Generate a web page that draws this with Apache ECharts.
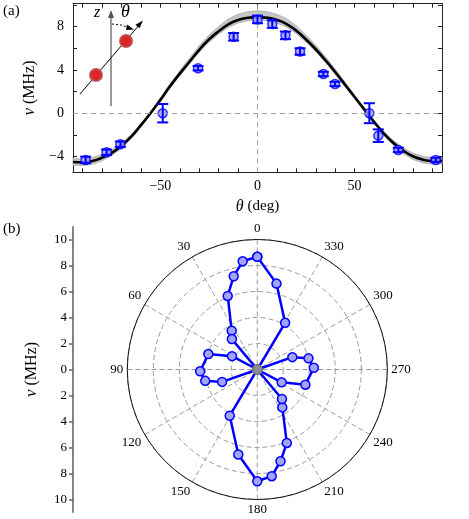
<!DOCTYPE html>
<html>
<head>
<meta charset="utf-8">
<script src="https://cdn.jsdelivr.net/npm/echarts@6/dist/echarts.min.js"></script>
<style>
  html, body { margin: 0; padding: 0; background: #fff; }
  #chart { width: 469px; height: 519px; }
</style>
</head>
<body>
<div id="chart"></div>
<script>
// (a) measured points
const thetaPts = [-88.5, -77.7, -70.6, -48.8, -30.6, -12.3, 0, 7.6, 14.4, 21.9, 33.9, 39.9, 57.6, 62.2, 72.5, 91.8]
const nuPts = [-4.31, -3.6, -2.86, 0, 4.15, 7.05, 8.65, 8.22, 7.18, 5.69, 3.62, 2.7, 0, -2.07, -3.39, -4.31]
const nuErr = [0.3, 0.25, 0.25, 0.85, 0.2, 0.35, 0.35, 0.35, 0.35, 0.3, 0.2, 0.2, 0.92, 0.58, 0.2, 0.2]

// (a) fitted curve and its uncertainty band
const thetaFit = [-95, -90, -85, -80, -75, -70, -65, -60, -55, -50, -45, -40, -35, -30, -25, -20, -15, -10, -5, 0,
  5, 10, 15, 20, 25, 30, 35, 40, 45, 50, 55, 60, 65, 70, 75, 80, 85, 90, 95]
const nuFit = [-4.5, -4.52, -4.4, -4.1, -3.65, -3.0, -2.15, -1.1, 0.02, 1.23, 2.5, 3.65, 4.75, 5.85, 6.8, 7.55, 8.2, 8.6, 8.8, 8.86,
  8.8, 8.6, 8.22, 7.6, 6.8, 5.9, 4.88, 3.8, 2.65, 1.5, 0.35, -0.8, -1.85, -2.75, -3.45, -3.97, -4.28, -4.4, -4.38]
const bandHigh = [-4.2, -4.22, -4.1, -3.8, -3.38, -2.78, -1.98, -0.97, 0.15, 1.4, 2.72, 3.93, 5.08, 6.22, 7.2, 8.0, 8.7, 9.12, 9.36, 9.44,
  9.36, 9.12, 8.72, 8.05, 7.2, 6.27, 5.2, 4.07, 2.88, 1.68, 0.48, -0.67, -1.68, -2.52, -3.18, -3.68, -3.98, -4.1, -4.08]
const bandLow = [-4.8, -4.82, -4.7, -4.38, -3.9, -3.24, -2.33, -1.22, -0.1, 1.1, 2.35, 3.48, 4.56, 5.63, 6.55, 7.3, 7.93, 8.32, 8.52, 8.58,
  8.52, 8.32, 7.95, 7.35, 6.55, 5.68, 4.68, 3.6, 2.45, 1.35, 0.22, -0.93, -2.02, -2.98, -3.72, -4.26, -4.58, -4.7, -4.68]

// (a) ticks
const xTicks = [-90, -80, -70, -60, -50, -40, -30, -20, -10, 0, 10, 20, 30, 40, 50, 60, 70, 80, 90]
const xTickLabels = [-50, 0, 50]
const yTicks = [-4, -2, 0, 2, 4, 6, 8, 10]
const yTickLabels = [-4, 0, 4, 8]

// (b) polar data: angle (deg) and |nu| (MHz)
const polarAngle = [0, 7.7, 14.2, 21.9, 33.4, 39.9, 57.6, 62.2, 72.5, 91.8, 102.3, 109.4, 131.2, 149.2, 167.4,
  180, 187.7, 194.2, 201.9, 213.4, 219.9, 237.6, 242.2, 252.5, 271.8, 282.3, 289.4, 311.2, 329.2, 347.4, 360]
const polarNu = [8.67, 8.4, 7.4, 6.1, 3.58, 3.05, 0, 2.2, 3.95, 4.4, 4.1, 2.87, 0, 4.14, 6.7,
  8.6, 8.28, 7.28, 6.09, 3.49, 2.96, 0, 2.12, 3.88, 4.35, 4.03, 2.86, 0, 4.18, 6.77, 8.67]

// (b) ruler on the left
const rulerValues = [-10, -8, -6, -4, -2, 0, 2, 4, 6, 8, 10]
const rulerLabels = ['10', '8', '6', '4', '2', '0', '2', '4', '6', '8', '10']

const FONT = 'Liberation Serif'
const BLUE = '#0000ff'
const chart = echarts.init(document.getElementById('chart'))

// real minus sign like the original
const minus = (v) => String(v).replace('-', '\u2212')

const frameAxis = (extra) => Object.assign({
  type: 'value',
  axisLine: { show: true, onZero: false, lineStyle: { color: '#222', width: 1 } },
  splitLine: { show: false }
}, extra)

const nuName = {
  name: '{i|ν} (MHz)', nameLocation: 'middle', nameRotate: 90,
  nameTextStyle: { fontSize: 16, color: '#000', rich: { i: { fontStyle: 'italic', fontSize: 17 } } }
}

const option = {
  animation: false,
  textStyle: { fontFamily: FONT, color: '#000' },
  grid: [
    { left: 73, top: 3.7, width: 369, height: 168.6 },
    { left: 73, top: 239.5, width: 10, height: 260 },
    { left: 73, top: 227, width: 10, height: 285 }
  ],
  xAxis: [
    frameAxis({
      gridIndex: 0, min: -95, max: 95,
      axisTick: { inside: true, length: 4, customValues: xTicks, lineStyle: { color: '#222' } },
      axisLabel: { customValues: xTickLabels, fontSize: 14, color: '#000', margin: 7, formatter: minus },
      name: '{i|θ} (deg)', nameLocation: 'middle', nameGap: 26,
      nameTextStyle: { fontSize: 15, color: '#000', rich: { i: { fontStyle: 'italic', fontSize: 16 } } }
    }),
    frameAxis({
      gridIndex: 0, min: -95, max: 95, position: 'top',
      axisTick: { inside: true, length: 4, customValues: xTicks, lineStyle: { color: '#222' } },
      axisLabel: { show: false }
    }),
    { gridIndex: 1, type: 'value', show: false, min: 0, max: 1 },
    { gridIndex: 2, type: 'value', show: false, min: 0, max: 1 }
  ],
  yAxis: [
    frameAxis(Object.assign({
      gridIndex: 0, min: -5.45, max: 10.1, nameGap: 34,
      axisTick: { inside: true, length: 4, customValues: yTicks, lineStyle: { color: '#222' } },
      axisLabel: { customValues: yTickLabels, fontSize: 14, color: '#000', margin: 9, formatter: minus }
    }, nuName)),
    frameAxis({
      gridIndex: 0, min: -5.45, max: 10.1, position: 'right',
      axisTick: { inside: true, length: 4, customValues: yTicks, lineStyle: { color: '#222' } },
      axisLabel: { show: false }
    }),
    Object.assign({
      gridIndex: 1, type: 'value', min: -10, max: 10, nameGap: 33,
      axisLine: { show: false },
      axisTick: { show: true, length: 4, customValues: rulerValues, lineStyle: { color: '#666', width: 1.5 } },
      axisLabel: {
        customValues: rulerValues, fontSize: 13, color: '#000', margin: 6,
        formatter: (v) => rulerLabels[rulerValues.indexOf(v)]
      },
      splitLine: { show: false }
    }, nuName),
    {
      gridIndex: 2, type: 'value', min: 0, max: 1,
      axisLine: { show: true, lineStyle: { color: '#777', width: 1.8 } },
      axisTick: { show: false }, axisLabel: { show: false }, splitLine: { show: false }
    }
  ],
  polar: { center: [257.3, 369.5], radius: 130 },
  angleAxis: {
    type: 'value', min: 0, max: 360, interval: 30, startAngle: 90, clockwise: false,
    axisLine: { show: true, lineStyle: { color: '#111', width: 1 } },
    axisTick: { show: false },
    axisLabel: { fontSize: 13, color: '#000', margin: 4, formatter: (v) => (v === 360 ? '' : String(v)) },
    splitLine: { show: true, lineStyle: { color: '#9a9a9a', width: 1, type: [5, 3] } }
  },
  radiusAxis: {
    type: 'value', min: 0, max: 10, interval: 2,
    axisLine: { show: false }, axisTick: { show: false }, axisLabel: { show: false },
    splitLine: { show: true, lineStyle: { color: '#9a9a9a', width: 1, type: [5, 3] } }
  },
  graphic: [
    { type: 'text', left: 3, top: 4, style: { text: '(a)', font: '15px "Liberation Serif"', fill: '#000' } },
    { type: 'text', left: 3, top: 222, style: { text: '(b)', font: '15px "Liberation Serif"', fill: '#000' } },
    // inset sketch
    { type: 'line', shape: { x1: 111, y1: 106, x2: 111, y2: 14 }, style: { stroke: '#777', lineWidth: 1.5 }, z: 10 },
    { type: 'polygon', shape: { points: [[111, 10], [108, 18], [114, 18]] }, style: { fill: '#555' }, z: 10 },
    { type: 'line', shape: { x1: 80, y1: 94, x2: 140, y2: 24 }, style: { stroke: '#000', lineWidth: 1 }, z: 10 },
    { type: 'polygon', shape: { points: [[143, 20.5], [135.5, 24.8], [139.6, 28.3]] }, style: { fill: '#000' }, z: 10 },
    { type: 'polyline', shape: { points: [[112, 24], [121, 25], [129, 27.5]] }, style: { stroke: '#000', lineWidth: 1, lineDash: [2, 2] }, z: 10 },
    { type: 'polygon', shape: { points: [[134, 29.5], [127, 24.5], [126, 30]] }, style: { fill: '#000' }, z: 10 },
    {
      type: 'circle', shape: { cx: 96, cy: 75, r: 7 }, z: 11,
      style: { fill: new echarts.graphic.RadialGradient(0.5, 0.5, 0.5, [
        { offset: 0, color: '#e82020' }, { offset: 0.65, color: '#d42a2a' }, { offset: 1, color: '#b86a6a' }]) }
    },
    {
      type: 'circle', shape: { cx: 126, cy: 41, r: 7 }, z: 11,
      style: { fill: new echarts.graphic.RadialGradient(0.5, 0.5, 0.5, [
        { offset: 0, color: '#e82020' }, { offset: 0.65, color: '#d42a2a' }, { offset: 1, color: '#b86a6a' }]) }
    },
    { type: 'text', left: 94, top: 5, z: 10, style: { text: 'z', font: 'italic 16px "Liberation Serif"', fill: '#000' } },
    { type: 'text', left: 121, top: 3, z: 10, style: { text: 'θ', font: 'italic 18px "Liberation Serif"', fill: '#000' } }
  ],
  series: [
    {
      // dashed zero lines
      type: 'line', xAxisIndex: 0, yAxisIndex: 0, data: [], z: 1, silent: true,
      markLine: {
        symbol: 'none', silent: true, label: { show: false },
        lineStyle: { color: '#a0a0a0', type: [5, 4], width: 1 },
        data: [{ xAxis: 0 }, { yAxis: 0 }]
      }
    },
    {
      type: 'custom', xAxisIndex: 0, yAxisIndex: 0, z: 2, silent: true,
      data: [0],
      renderItem: (params, api) => {
        const pts = []
        thetaFit.forEach((t, i) => pts.push(api.coord([t, bandHigh[i]])))
        for (let i = thetaFit.length - 1; i >= 0; i--) pts.push(api.coord([thetaFit[i], bandLow[i]]))
        return {
          type: 'polygon', shape: { points: pts },
          style: { fill: '#c6c6c6', stroke: '#a8a8a8', lineWidth: 0.8 }
        }
      }
    },
    {
      type: 'line', xAxisIndex: 0, yAxisIndex: 0, z: 3,
      data: thetaFit.map((t, i) => [t, nuFit[i]]),
      smooth: true, showSymbol: false,
      lineStyle: { color: '#000', width: 2.6 }
    },
    {
      type: 'scatter', xAxisIndex: 0, yAxisIndex: 0, z: 4,
      data: thetaPts.map((t, i) => [t, nuPts[i]]),
      symbol: 'circle', symbolSize: 9,
      itemStyle: { color: '#9d9dfa', borderColor: BLUE, borderWidth: 1.5 }
    },
    {
      type: 'custom', xAxisIndex: 0, yAxisIndex: 0, z: 5,
      data: thetaPts.map((t, i) => [t, nuPts[i], nuErr[i]]),
      encode: { x: 0, y: 1 },
      renderItem: (params, api) => {
        const x = api.value(0), y = api.value(1), e = api.value(2)
        const top = api.coord([x, y + e])
        const bot = api.coord([x, y - e])
        const w = 5.5
        const st = { stroke: BLUE, lineWidth: 2 }
        return {
          type: 'group',
          children: [
            { type: 'line', shape: { x1: top[0], y1: top[1], x2: bot[0], y2: bot[1] }, style: st },
            { type: 'line', shape: { x1: top[0] - w, y1: top[1], x2: top[0] + w, y2: top[1] }, style: st },
            { type: 'line', shape: { x1: bot[0] - w, y1: bot[1], x2: bot[0] + w, y2: bot[1] }, style: st }
          ]
        }
      }
    },
    {
      type: 'line', coordinateSystem: 'polar', z: 4,
      data: polarNu.map((r, i) => {
        const item = { value: [r, polarAngle[i]] }
        if (r === 0) item.itemStyle = { color: '#8c8c96', borderColor: '#7a7a86' }
        return item
      }),
      symbol: 'circle', symbolSize: 9, showAllSymbol: true,
      lineStyle: { color: BLUE, width: 2.5 },
      itemStyle: { color: '#a3a3f7', borderColor: BLUE, borderWidth: 1.5 }
    }
  ]
}

chart.setOption(option)
</script>
</body>
</html>
